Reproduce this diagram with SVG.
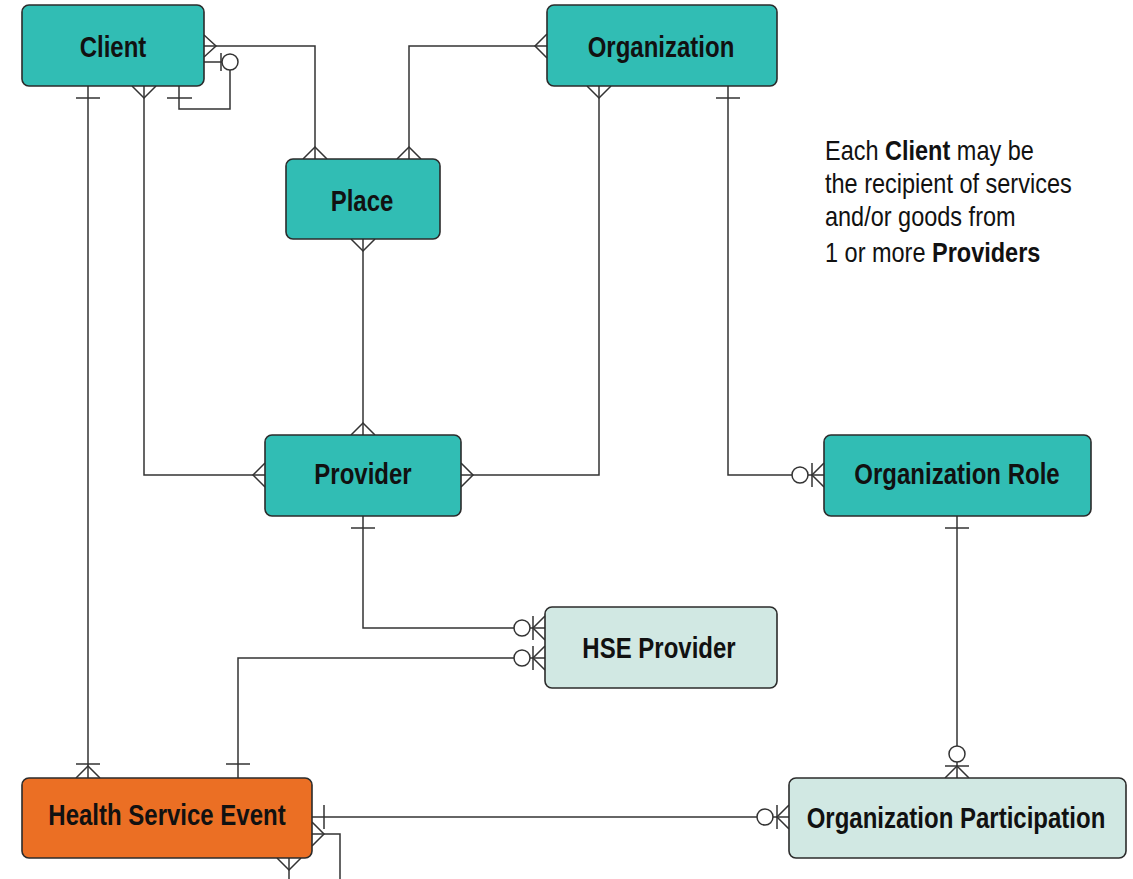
<svg xmlns="http://www.w3.org/2000/svg" width="1133" height="879" viewBox="0 0 1133 879">
<style>
.box{stroke:#2b2b2b;stroke-width:1.6}
.teal{fill:#31BDB4}
.light{fill:#D1E8E3}
.orange{fill:#EB6F24}
.lbl{font-family:"Liberation Sans",Arial,sans-serif;font-weight:bold;font-size:24px;fill:#111;text-anchor:middle}
.note{font-family:"Liberation Sans",Arial,sans-serif;font-size:23.5px;fill:#111}
.note .b{font-weight:bold}
.c{fill:none;stroke:#333;stroke-width:1.5}
.o{fill:#fff;stroke:#333;stroke-width:1.5}
</style>
<rect width="1133" height="879" fill="#fff"/>
<g id="connectors">
  <!-- Client -> Place -->
  <path class="c" d="M204,46 H315 V159"/>
  <path class="c" d="M204,35 L216,46 L204,57"/>
  <path class="c" d="M303,159 L315,147 L327,159"/>
  <!-- Client self -->
  <path class="c" d="M204,62 H230 V109 H179 V86"/>
  <path class="c" d="M221,53 V71"/>
  <circle class="o" cx="230" cy="62" r="8"/>
  <path class="c" d="M167,98 H192"/>
  <!-- Client -> HSE -->
  <path class="c" d="M88,86 V778"/>
  <path class="c" d="M76,98 H100"/>
  <path class="c" d="M76,764 H100"/>
  <path class="c" d="M76,778 L88,766 L100,778"/>
  <!-- Client -> Provider -->
  <path class="c" d="M144,86 V475 H265"/>
  <path class="c" d="M132,86 L144,98 L156,86"/>
  <path class="c" d="M265,463 L253,475 L265,487"/>
  <!-- Organization -> Place -->
  <path class="c" d="M547,46 H409 V159"/>
  <path class="c" d="M547,34 L535,46 L547,58"/>
  <path class="c" d="M397,159 L409,147 L421,159"/>
  <!-- Organization -> Provider -->
  <path class="c" d="M599,86 V475 H461"/>
  <path class="c" d="M587,86 L599,98 L611,86"/>
  <path class="c" d="M461,463 L473,475 L461,487"/>
  <!-- Organization -> Organization Role -->
  <path class="c" d="M728,86 V475 H824"/>
  <path class="c" d="M716,98 H740"/>
  <circle class="o" cx="800" cy="475" r="8"/>
  <path class="c" d="M812,463 V487"/>
  <path class="c" d="M824,463 L812,475 L824,487"/>
  <!-- Place -> Provider -->
  <path class="c" d="M363,239 V435"/>
  <path class="c" d="M351,239 L363,251 L375,239"/>
  <path class="c" d="M351,435 L363,423 L375,435"/>
  <!-- Provider -> HSE Provider -->
  <path class="c" d="M363,516 V628 H545"/>
  <path class="c" d="M351,528 H375"/>
  <circle class="o" cx="522" cy="628" r="8"/>
  <path class="c" d="M533,616 V640"/>
  <path class="c" d="M545,616 L533,628 L545,640"/>
  <!-- HSE -> HSE Provider -->
  <path class="c" d="M238,778 V658 H545"/>
  <path class="c" d="M226,764 H250"/>
  <circle class="o" cx="522" cy="658" r="8"/>
  <path class="c" d="M533,646 V670"/>
  <path class="c" d="M545,646 L533,658 L545,670"/>
  <!-- Organization Role -> Organization Participation -->
  <path class="c" d="M957,516 V778"/>
  <path class="c" d="M945,528 H969"/>
  <circle class="o" cx="957" cy="754" r="8"/>
  <path class="c" d="M945,766 H969"/>
  <path class="c" d="M945,778 L957,766 L969,778"/>
  <!-- HSE -> Organization Participation -->
  <path class="c" d="M312,817 H789"/>
  <path class="c" d="M324,805 V829"/>
  <circle class="o" cx="765" cy="817" r="8"/>
  <path class="c" d="M777,805 V829"/>
  <path class="c" d="M789,805 L777,817 L789,829"/>
  <!-- HSE off-page -->
  <path class="c" d="M312,834 H340 V879"/>
  <path class="c" d="M312,822 L324,834 L312,846"/>
  <path class="c" d="M289,858 V879"/>
  <path class="c" d="M277,858 L289,870 L301,858"/>
</g>
<g id="client"><rect class="box teal" x="22" y="5" width="182" height="81" rx="7"/>
  <text class="lbl" transform="translate(113,57) scale(1,1.2)">Client</text></g>
<g id="organization"><rect class="box teal" x="547" y="5" width="230" height="81" rx="7"/>
  <text class="lbl" transform="translate(661,57) scale(1,1.2)">Organization</text></g>
<g id="place"><rect class="box teal" x="286" y="159" width="154" height="80" rx="7"/>
  <text class="lbl" transform="translate(362,211) scale(1,1.2)">Place</text></g>
<g id="provider"><rect class="box teal" x="265" y="435" width="196" height="81" rx="7"/>
  <text class="lbl" transform="translate(363,484) scale(1,1.2)">Provider</text></g>
<g id="organization-role"><rect class="box teal" x="824" y="435" width="267" height="81" rx="7"/>
  <text class="lbl" transform="translate(957,484) scale(1,1.2)">Organization Role</text></g>
<g id="hse-provider"><rect class="box light" x="545" y="607" width="232" height="81" rx="7"/>
  <text class="lbl" transform="translate(659,658) scale(1,1.2)">HSE Provider</text></g>
<g id="health-service-event"><rect class="box orange" x="22" y="778" width="290" height="80" rx="7"/>
  <text class="lbl" transform="translate(167,825) scale(1,1.2)">Health Service Event</text></g>
<g id="organization-participation"><rect class="box light" x="789" y="778" width="337" height="80" rx="7"/>
  <text class="lbl" transform="translate(956,828) scale(1,1.2)">Organization Participation</text></g>
<g id="note">
  <text class="note" transform="translate(825,160) scale(1,1.2)">Each <tspan class="b">Client</tspan> may be</text>
  <text class="note" transform="translate(825,193) scale(1,1.2)">the recipient of services</text>
  <text class="note" transform="translate(825,226) scale(1,1.2)">and/or goods from</text>
  <text class="note" transform="translate(825,262) scale(1,1.2)">1 or more <tspan class="b">Providers</tspan></text>
</g>
</svg>
